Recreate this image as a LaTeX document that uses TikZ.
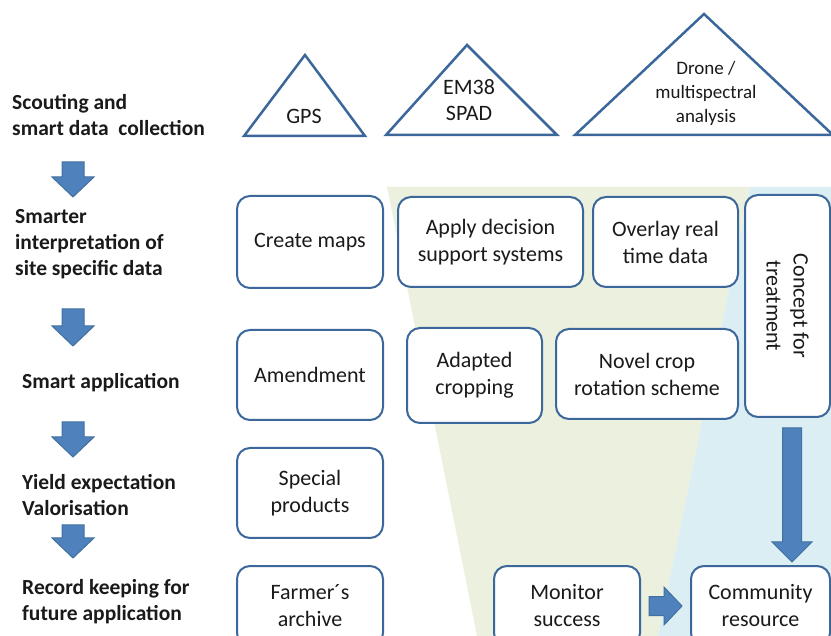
\documentclass[tikz,border=0pt]{standalone}
\usepackage{fontspec}
\setmainfont{Carlito}
\usetikzlibrary{calc}
\usetikzlibrary{positioning}

\definecolor{boxline}{HTML}{3C679B}
\definecolor{arrowfill}{HTML}{4F81BD}
\definecolor{arrowline}{HTML}{41719C}
\definecolor{greenband}{HTML}{EBF1DE}
\definecolor{blueband}{HTML}{DBEEF4}
\definecolor{textcol}{HTML}{1A1A1A}

\tikzset{
  stepbox/.style={draw=boxline, line width=2pt, rounded corners=13pt,
    fill=white, align=center, inner sep=0pt, text=textcol,
    font=\fontsize{22}{27}\selectfont},
  sensor/.style={draw=boxline, line width=2.5pt},
  stage/.style={anchor=west, align=left, inner sep=0pt, text=textcol,
    font=\bfseries\fontsize{21.5}{26}\selectfont},
  blockstyle/.style={fill=arrowfill, draw=arrowline, line width=1pt}
}

% shaft half width, head half width, head length, from, to
\newcommand{\blockarrow}[5]{%
  \draw[blockstyle] let \p1=($(#5)-(#4)$), \n1={veclen(\x1,\y1)},
    \n2={atan2(\y1,\x1)} in [shift={(#4)}, rotate=\n2]
    (0,-#1) -- (\n1-#3,-#1) -- (\n1-#3,-#2) -- (\n1,0)
    -- (\n1-#3,#2) -- (\n1-#3,#1) -- (0,#1) -- cycle;}

\begin{document}
\begin{tikzpicture}[x=1pt, y=-1pt]

    \useasboundingbox (0,0) rectangle (831,636);
    \clip (0,0) rectangle (831,636);

    % bands
    \fill[greenband] (387,187) -- (750,187) -- (658,636) -- (477,636) -- cycle;
    \fill[blueband] (750,187) -- (831,187) -- (831,636) -- (658,636) -- cycle;

    % sensors
    \draw[sensor] (244,136) -- (305,55) -- (365,136) -- cycle;
    \draw[sensor] (386,135) -- (467,45) -- (557,135) -- cycle;
    \draw[sensor] (575,135) -- (704,14) -- (833,135) -- cycle;
    \node[text=textcol, font=\fontsize{22}{27}\selectfont]
      (GPS) at (304,116) {GPS};
    \node[text=textcol, align=center, font=\fontsize{22}{26}\selectfont]
      (EMSPAD) at (469,100) {EM38\\SPAD};
    \node[text=textcol, align=center, font=\fontsize{19}{24}\selectfont]
      (Drone) at (706,93) {Drone /\\multispectral\\analysis};

    % stages
    \node[stage]
      (Scouting) at (12,115) {Scouting and\\smart data\ \ collection};
    \node[stage]
      (Smarter) at (15,244) {Smarter\\interpretation of\\site specific data};
    \node[stage]
      (SmartApp) at (22,383) {Smart application};
    \node[stage]
      (Yield) at (22,495) {Yield expectation\\Valorisation};
    \node[stage]
      (Record) at (22,602) {Record keeping for\\future application};

    % boxes
    \node[stepbox, minimum width=146, minimum height=92]
      (Maps) at (310,242) {Create maps};
    \node[stepbox, minimum width=185, minimum height=90]
      (Decision) at (490.5,242) {Apply decision\\support systems};
    \node[stepbox, minimum width=145, minimum height=90]
      (Overlay) at (665.5,242) {Overlay real\\time data};
    \node[stepbox, rotate=-90, minimum width=222, minimum height=85]
      (Concept) at (787.5,306) {Concept for\\treatment};
    \node[stepbox, minimum width=146, minimum height=90]
      (Amendment) at (310,375) {Amendment};
    \node[stepbox, minimum width=135, minimum height=95]
      (Adapted) at (474.5,375.5) {Adapted\\cropping};
    \node[stepbox, minimum width=182, minimum height=90]
      (Rotation) at (647,374) {Novel crop\\rotation scheme};
    \node[stepbox, minimum width=146, minimum height=90]
      (Special) at (310,493) {Special\\products};
    \node[stepbox, minimum width=146, minimum height=80]
      (Archive) at (310,606) {Farmer´s\\archive};
    \node[stepbox, minimum width=146, minimum height=80]
      (Monitor) at (567,606) {Monitor\\success};
    \node[stepbox, minimum width=139, minimum height=80]
      (Community) at (760.5,606) {Community\\resource};

    % flow arrows
    \coordinate (F1) at (73,162);  \coordinate (T1) at (73,197);
    \coordinate (F2) at (73,309);  \coordinate (T2) at (73,346);
    \coordinate (F3) at (73,422);  \coordinate (T3) at (73,457);
    \coordinate (F4) at (73,525);  \coordinate (T4) at (73,558);
    \foreach \i in {1,...,4}
      \blockarrow{11}{21}{20}{F\i}{T\i};

    \blockarrow{9.5}{20}{20}{$(Concept.east)+(4.5,10)$}{$(Community.north)+(31.5,-3)$}
    \blockarrow{9.5}{19}{18}{$(Monitor.east)+(8,0)$}{$(Community.west)+(-8,0)$}

\end{tikzpicture}
\end{document}
